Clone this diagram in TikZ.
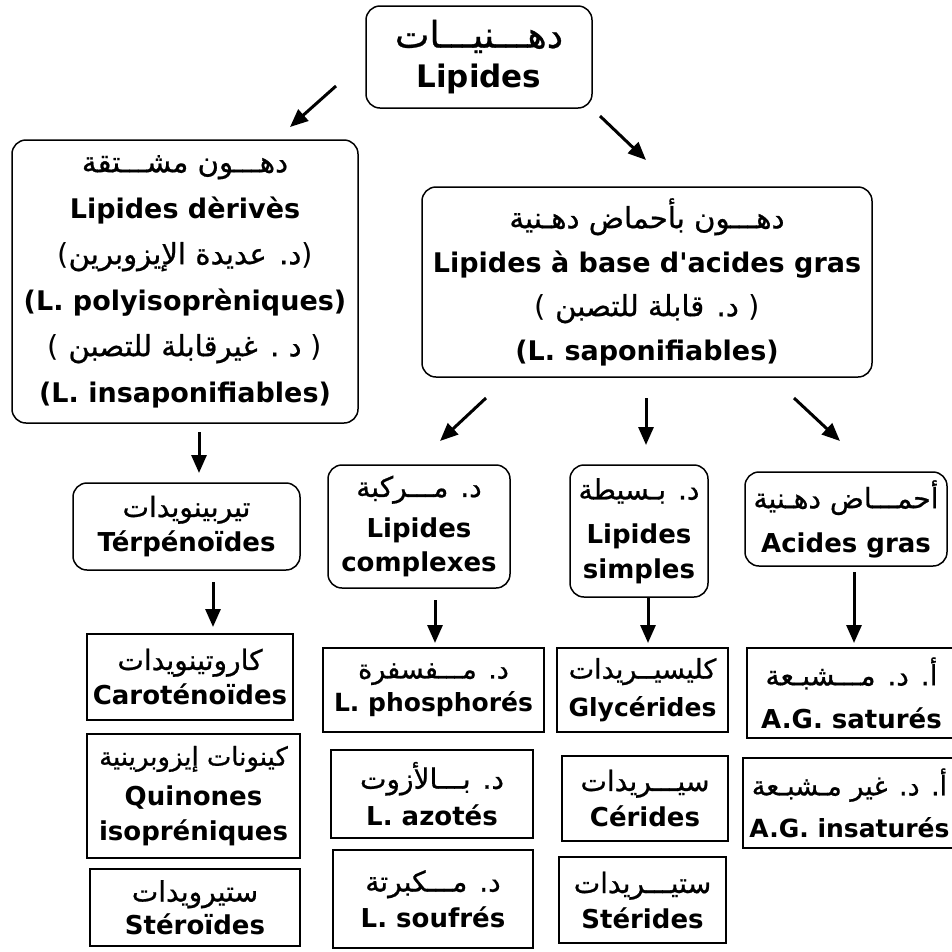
\documentclass[tikz,border=0pt]{standalone}
\usepackage{fontspec}
\setmainfont{DejaVu Sans}[Ligatures=TeXOff]
\newfontfamily\arfont[Script=Arabic,Scale=1.08,FakeBold=0.7]{DejaVu Sans}
\TeXXeTstate=1
\usetikzlibrary{arrows.meta}
\newcommand\artxt[1]{{\arfont\mdseries\beginR #1\endR}}
\newcommand\lpar{{\mdseries\fontsize{29}{29}\selectfont(}}
\newcommand\rpar{{\mdseries\fontsize{29}{29}\selectfont)}}
\begin{document}
\begin{tikzpicture}[x=1pt,y=-1pt,
  boxbase/.style={draw, line width=1.5pt, align=center, inner sep=0pt},
  rbox/.style={boxbase, rounded corners=14pt},
  sbox/.style={boxbase},
  fs/.style 2 args={font=\bfseries\fontsize{#1}{#2}\selectfont},
  arr/.style={-{Triangle[length=18pt,width=15pt]}, line width=3pt}]
\useasboundingbox (0,0) rectangle (952,951);
\fill[white] (0,0) rectangle (952,951);

% top
\node[rbox, fs={31}{40}, minimum width=226pt, minimum height=102pt] (top) at (479,57)
  {{\fontsize{34}{40}\selectfont\artxt{دهـــنيـــات}}\\Lipides};

% level 1
\node[rbox, fs={27}{46}, minimum width=346pt, minimum height=283pt] (deriv) at (185,281.5)
  {\artxt{دهـــون مشـــتقة}\\Lipides dèrivès\\\lpar\artxt{د. عديدة الإيزوبرين}\rpar\\(L. polyisoprèniques)\\\lpar\ \artxt{د . غيرقابلة للتصبن}\ \rpar\\(L. insaponifiables)};
\node[rbox, fs={27}{44}, minimum width=450pt, minimum height=190pt] (sapo) at (647,282)
  {\artxt{دهـــون بأحماض دهـنية}\\Lipides à base d'acides gras\\\lpar\ \artxt{د. قابلة للتصبن}\ \rpar\\(L. saponifiables)};

% level 2
\node[rbox, fs={26}{35}, minimum width=227pt, minimum height=87pt] (terp) at (186.5,526.5)
  {\artxt{تيربينويدات}\\Térpénoïdes};
\node[rbox, fs={26}{34}, minimum width=182pt, minimum height=123pt] (comp) at (419,526.5)
  {\raisebox{-3pt}{\artxt{د. مـــركبة}}\\[10pt]Lipides\\complexes};
\node[rbox, fs={26}{35}, minimum width=138pt, minimum height=132pt] (simp) at (639,531)
  {\artxt{د. بـسيطة}\\[9pt]Lipides\\simples};
\node[rbox, fs={26}{44}, minimum width=202pt, minimum height=94pt] (acid) at (846,519)
  {\artxt{أحمـــاض دهـنية}\\Acides gras};

% level 3
\node[sbox, fs={26}{35}, minimum width=206pt, minimum height=86pt] (caro) at (190,677)
  {\artxt{كاروتينويدات}\\Caroténoïdes};
\node[sbox, fs={26}{35}, minimum width=213pt, minimum height=124pt] (quin) at (193.5,796)
  {{\fontsize{24}{35}\selectfont\artxt{كينونات إيزوبرينية}}\\[5pt]Quinones\\isopréniques};
\node[sbox, fs={26}{33}, minimum width=210pt, minimum height=77pt] (stero) at (195,907.5)
  {\artxt{ستيرويدات}\\Stéroïdes};

\node[sbox, fs={25}{33}, minimum width=221pt, minimum height=84pt] (phos) at (433.5,690)
  {\artxt{د. مـــفسفرة}\\L. phosphorés};
\node[sbox, fs={26}{37}, minimum width=202pt, minimum height=88pt] (azot) at (432,794)
  {\artxt{د. بـــالأزوت}\\L. azotés};
\node[sbox, fs={26}{36}, minimum width=200pt, minimum height=98pt] (souf) at (433,899)
  {\artxt{د. مـــكبرتة}\\L. soufrés};

\node[sbox, fs={25}{38}, minimum width=171pt, minimum height=84pt] (glyc) at (642.5,690)
  {\artxt{كليسيــريدات}\\Glycérides};
\node[sbox, fs={26}{36}, minimum width=166pt, minimum height=85pt] (ceri) at (645,798.5)
  {\artxt{سيـــريدات}\\Cérides};
\node[sbox, fs={26}{35}, minimum width=167pt, minimum height=86pt] (steri) at (642.5,900)
  {\artxt{ستيـــريدات}\\Stérides};

\node[sbox, fs={26}{43}, minimum width=209pt, minimum height=90pt] (satu) at (851.5,693)
  {\artxt{أ. د. مـــشبـعة}\\A.G. saturés};
\node[sbox, fs={25}{42}, minimum width=213pt, minimum height=90pt] (insat) at (849.5,803)
  {\artxt{أ. د. غير مـشبـعة}\\A.G. insaturés};

% arrow end points
\coordinate (a1s) at (336,86);  \coordinate (a1e) at (290,127);
\coordinate (a2s) at (600,116); \coordinate (a2e) at (646,160);
\coordinate (a3s) at (486,398); \coordinate (a3e) at (440,441);
\coordinate (a4s) at (646,398); \coordinate (a4e) at (646,445);
\coordinate (a5s) at (794,398); \coordinate (a5e) at (840,441);
\coordinate (a6s) at (199,432); \coordinate (a6e) at (199,473);
\coordinate (a7s) at (213,582); \coordinate (a7e) at (213,627);
\coordinate (a8s) at (435,600); \coordinate (a8e) at (435,643);
\coordinate (a9s) at (648,598); \coordinate (a9e) at (648,643);
\coordinate (a10s) at (854,572); \coordinate (a10e) at (854,643);

\draw[arr] (a1s) -- (a1e);
\draw[arr] (a2s) -- (a2e);
\draw[arr] (a3s) -- (a3e);
\draw[arr] (a4s) -- (a4e);
\draw[arr] (a5s) -- (a5e);
\draw[arr] (a6s) -- (a6e);
\draw[arr] (a7s) -- (a7e);
\draw[arr] (a8s) -- (a8e);
\draw[arr] (a9s) -- (a9e);
\draw[arr] (a10s) -- (a10e);
\end{tikzpicture}
\end{document}
